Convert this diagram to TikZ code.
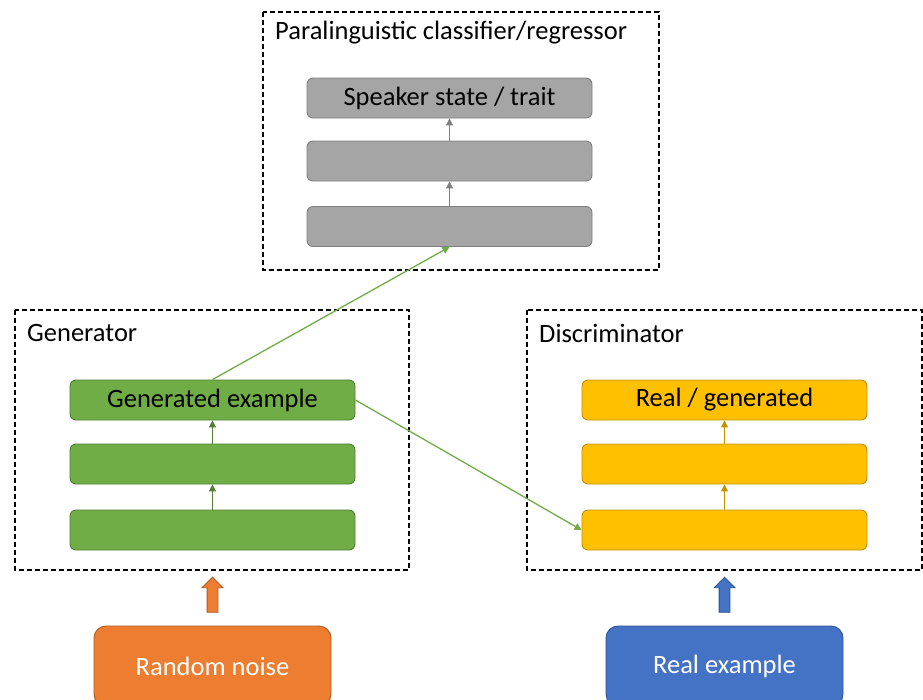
\documentclass[tikz,border=0pt]{standalone}
\usepackage{fontspec}
\setmainfont{Carlito}
\usetikzlibrary{arrows.meta,shapes.arrows}

\definecolor{grayfill}{HTML}{A5A5A5}
\definecolor{graydraw}{HTML}{7F7F7F}
\definecolor{greenfill}{HTML}{70AD47}
\definecolor{greendraw}{HTML}{507E32}
\definecolor{yellowfill}{HTML}{FFC000}
\definecolor{yellowdraw}{HTML}{BF9000}
\definecolor{orangefill}{HTML}{ED7D31}
\definecolor{orangedraw}{HTML}{AE5A21}
\definecolor{bluefill}{HTML}{4472C4}
\definecolor{bluedraw}{HTML}{2F528F}

\tikzset{
  panel/.style={draw, line width=1.2pt, dash pattern=on 5pt off 3pt},
  paneltitle/.style={anchor=west, inner sep=0pt, font=\fontsize{26.5}{30}\selectfont},
  layer/.style={rounded corners=6pt, line width=0.9pt, minimum width=285pt,
    minimum height=40pt, inner sep=0pt, font=\fontsize{26.5}{30}\selectfont},
  graylayer/.style={layer, fill=grayfill, draw=graydraw},
  greenlayer/.style={layer, fill=greenfill, draw=greendraw},
  yellowlayer/.style={layer, fill=yellowfill, draw=yellowdraw},
  source/.style={rounded corners=12pt, line width=0.9pt, minimum width=237pt,
    minimum height=80pt, inner sep=0pt, text=white, font=\fontsize{26.5}{30}\selectfont},
  blockarrow/.style={single arrow, rotate=90, line width=0.8pt, minimum height=35pt,
    inner sep=5pt, single arrow head extend=5pt, single arrow head indent=0pt},
  flow/.style={line width=1pt, -{Triangle[length=7pt,width=7pt]}}
}

\begin{document}
\begin{tikzpicture}[x=1pt, y=-1pt]
  \path[use as bounding box, clip] (0,0) rectangle (923,699);

  % Classifier / regressor
  \draw[panel] (263,12) rectangle (659,270);
  \node[paneltitle] (ctitle) at (275,33) {Paralinguistic classifier/regressor};
  \node[graylayer] (c1) at (449.5,98) {Speaker state / trait};
  \node[graylayer] (c2) at (449.5,161) {};
  \node[graylayer] (c3) at (449.5,226.5) {};
  \draw[flow, graydraw] (c3.north) -- (c2.south);
  \draw[flow, graydraw] (c2.north) -- (c1.south);

  % Generator
  \draw[panel] (15,310) rectangle (409,570);
  \node[paneltitle] (gtitle) at (27,333) {Generator};
  \node[greenlayer] (g1) at (212.5,400) {Generated example};
  \node[greenlayer] (g2) at (212.5,464) {};
  \node[greenlayer] (g3) at (212.5,530) {};
  \draw[flow, greendraw] (g3.north) -- (g2.south);
  \draw[flow, greendraw] (g2.north) -- (g1.south);

  % Discriminator
  \draw[panel] (527,310) rectangle (922,570);
  \node[paneltitle] (dtitle) at (539,333) {Discriminator};
  \node[yellowlayer] (d1) at (724.5,400) {Real / generated};
  \node[yellowlayer] (d2) at (724.5,464) {};
  \node[yellowlayer] (d3) at (724.5,530) {};
  \draw[flow, yellowdraw] (d3.north) -- (d2.south);
  \draw[flow, yellowdraw] (d2.north) -- (d1.south);

  % Generator output
  \draw[flow, greenfill, line width=1.3pt] (g1.north) -- (c3.south);
  \draw[flow, greenfill, line width=1.3pt] (g1.east) -- (d3.west);

  % Inputs
  \node[source, fill=orangefill, draw=orangedraw] (noise) at (212.5,666) {Random noise};
  \node[source, fill=bluefill, draw=bluedraw] (real) at (724.5,666) {Real example};
  \node[blockarrow, fill=orangefill, draw=orangedraw] (narrow) at (212.5,597.5) {};
  \node[blockarrow, fill=bluefill, draw=bluedraw] (rarrow) at (724.5,597.5) {};
\end{tikzpicture}
\end{document}
